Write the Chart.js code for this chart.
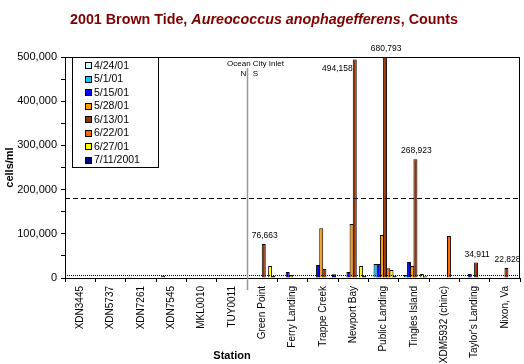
<!DOCTYPE html>
<html>
<head>
<meta charset="utf-8">
<script src="https://cdn.jsdelivr.net/npm/chart.js@4"></script>
<style>
  html, body { margin: 0; padding: 0; background: #fff; }
  #wrap { width: 524px; height: 364px; }
</style>
</head>
<body>
<div id="wrap"><canvas id="chart" width="524" height="364"></canvas></div>
<script>
(function () {
  'use strict';

  var STATIONS = ['XDN3445', 'XDN5737', 'XDN7261', 'XDN7545', 'MKL0010', 'TUY0011',
    'Green Point', 'Ferry Landing', 'Trappe Creek', 'Newport Bay', 'Public Landing',
    'Tingles Island', 'XDM5932 (chinc)', "Taylor's Landing", 'Nixon, Va'];

  var DATES = ['4/24/01', '5/1/01', '5/15/01', '5/28/01', '6/13/01', '6/22/01', '6/27/01', '7/11/2001'];
  var COLORS = ['#CCFFFF', '#00CCFF', '#0000FF', '#FF9900', '#993300', '#FF6600', '#FFFF00', '#000080'];

  // cells/ml per station, one array per sampling date
  var APR24 = [null, null, 3000, 1000, null, null, null, null, null, 1000, null, null, null, null, null];
  var MAY01 = [null, null, null, 5000, null, null, null, null, null, 1000, 31700, 6800, null, null, null];
  var MAY15 = [null, null, null, null, null, null, null, 13500, 29400, 13600, 31700, 36200, null, 9000, null];
  var MAY28 = [null, null, null, null, null, null, 1000, 6800, 112400, 122000, 97300, 27100, null, null, null];
  var JUN13 = [null, null, null, null, null, null, 76663, null, 20400, 494158, 680793, 268923, null, 34911, 22828];
  var JUN22 = [null, null, null, null, null, null, null, null, null, null, 22000, null, 95000, null, null];
  var JUN27 = [null, null, null, null, null, null, 27000, 1000, 1500, 27000, 18000, 9000, null, 1000, 1500];
  var JUL11 = [null, null, null, null, null, null, 5000, null, 8300, 5000, 5000, 4000, null, null, 1500];
  var SERIES = [APR24, MAY01, MAY15, MAY28, JUN13, JUN22, JUN27, JUL11];

  var Y_MAX = 500000;
  var Y_STEP = 50000;
  var DASHED_LEVEL = 181000;
  var DOTTED_LEVEL = 6800;

  // stations whose 6/13/01 count is printed, and where the number sits
  var LABELLED = [
    { station: 'Green Point', place: 'top' },
    { station: 'Newport Bay', place: 'left' },
    { station: 'Public Landing', place: 'top' },
    { station: 'Tingles Island', place: 'top' },
    { station: "Taylor's Landing", place: 'top' },
    { station: 'Nixon, Va', place: 'top' }
  ];

  var FONT = '"Liberation Sans", Arial, sans-serif';
  Chart.defaults.font.family = FONT;
  Chart.defaults.font.size = 11;
  Chart.defaults.color = '#000';

  function fmt(v) { return Number(v).toLocaleString('en-US'); }

  function hline(ctx, x1, x2, y) {
    ctx.beginPath();
    ctx.moveTo(x1, y);
    ctx.lineTo(x2, y);
    ctx.stroke();
  }

  var decorations = {
    id: 'decorations',
    afterDatasetsDraw: function (chart) {
      var ctx = chart.ctx;
      var area = chart.chartArea;
      var xs = chart.scales.x;
      var ys = chart.scales.y;
      ctx.save();

      // threshold lines
      ctx.strokeStyle = '#000';
      ctx.lineWidth = 1;
      ctx.setLineDash([5, 3]);
      hline(ctx, area.left, area.right, Math.round(ys.getPixelForValue(DASHED_LEVEL)) + 0.5);
      ctx.setLineDash([1, 1]);
      hline(ctx, area.left, area.right, Math.round(ys.getPixelForValue(DOTTED_LEVEL)) + 0.5);
      ctx.setLineDash([]);

      // plot frame
      ctx.strokeRect(area.left + 0.5, area.top + 0.5, area.right - area.left - 1, area.bottom - area.top);

      // Ocean City Inlet divider
      var xi = Math.round((xs.getPixelForValue(5) + xs.getPixelForValue(6)) / 2) + 0.5;
      ctx.strokeStyle = '#999';
      ctx.lineWidth = 1.5;
      ctx.beginPath();
      ctx.moveTo(xi, area.top + 11);
      ctx.lineTo(xi, area.bottom + 12);
      ctx.stroke();
      ctx.fillStyle = '#000';
      ctx.font = '8px ' + FONT;
      ctx.textAlign = 'center';
      ctx.textBaseline = 'middle';
      ctx.fillText('Ocean City Inlet', xi + 8, area.top + 7);
      ctx.fillText('N', xi - 4, area.top + 17);
      ctx.fillText('S', xi + 8, area.top + 17);

      // value labels on the 6/13/01 bars
      var meta = chart.getDatasetMeta(4);
      ctx.font = '8.5px ' + FONT;
      LABELLED.forEach(function (l) {
        var i = STATIONS.indexOf(l.station);
        var bar = meta.data[i];
        var text = fmt(JUN13[i]);
        var top = Math.max(bar.y, area.top);
        if (l.place === 'left') {
          ctx.textAlign = 'right';
          ctx.fillText(text, bar.x - bar.width / 2, top + 9);
        } else {
          ctx.textAlign = 'center';
          ctx.fillText(text, bar.x + 1, top - 8);
        }
      });

      // legend box
      var lx = area.left + 7, ly = area.top, lw = 86, lh = 110;
      ctx.fillStyle = '#fff';
      ctx.fillRect(lx, ly, lw, lh);
      ctx.strokeStyle = '#000';
      ctx.lineWidth = 1;
      ctx.strokeRect(lx + 0.5, ly + 0.5, lw, lh);
      ctx.font = '10.5px ' + FONT;
      ctx.textAlign = 'left';
      ctx.textBaseline = 'middle';
      chart.data.datasets.forEach(function (ds, k) {
        var cy = ly + 8 + k * 13.5;
        ctx.fillStyle = ds.backgroundColor;
        ctx.fillRect(lx + 13, Math.round(cy) - 3, 7, 7);
        ctx.strokeRect(lx + 13.5, Math.round(cy) - 2.5, 6, 6);
        ctx.fillStyle = '#000';
        ctx.fillText(ds.label, lx + 22, cy + 1);
      });

      ctx.restore();
    },
    afterDraw: function (chart) {
      var ctx = chart.ctx;
      ctx.save();
      // title with italic species name
      var parts = [
        { t: '2001 Brown Tide, ', f: 'bold 14.3px ' + FONT },
        { t: 'Aureococcus anophagefferens', f: 'italic bold 14.3px ' + FONT },
        { t: ', Counts', f: 'bold 14.3px ' + FONT }
      ];
      var total = 0;
      parts.forEach(function (p) { ctx.font = p.f; p.w = ctx.measureText(p.t).width; total += p.w; });
      var x = chart.width / 2 + 2 - total / 2;
      ctx.fillStyle = '#800000';
      ctx.textBaseline = 'middle';
      ctx.textAlign = 'left';
      parts.forEach(function (p) { ctx.font = p.f; ctx.fillText(p.t, x, 20); x += p.w; });

      // x axis title
      ctx.fillStyle = '#000';
      ctx.font = 'bold 11px ' + FONT;
      ctx.textAlign = 'center';
      ctx.fillText('Station', 232, 356);
      ctx.restore();
    }
  };

  var datasets = DATES.map(function (d, k) {
    return {
      label: d,
      data: SERIES[k],
      backgroundColor: COLORS[k],
      borderColor: '#000',
      borderWidth: 1,
      borderSkipped: 'start',
      inflateAmount: 0,
      categoryPercentage: 0.84,
      barPercentage: 1.25
    };
  });

  new Chart(document.getElementById('chart').getContext('2d'), {
    type: 'bar',
    data: { labels: STATIONS, datasets: datasets },
    options: {
      responsive: false,
      animation: false,
      layout: { padding: { top: 57, right: 4, left: 0, bottom: 0 } },
      plugins: {
        legend: { display: false },
        tooltip: { enabled: false }
      },
      scales: {
        x: {
          afterFit: function (s) { s.height = 86; },
          grid: { display: true, drawOnChartArea: false, offset: true, tickLength: 4, color: '#000' },
          border: { color: '#000', width: 1 },
          ticks: { autoSkip: false, minRotation: 90, maxRotation: 90, padding: 4, font: { size: 10 } }
        },
        y: {
          min: 0,
          max: Y_MAX,
          afterFit: function (s) { s.width = 65; },
          grid: { display: true, drawOnChartArea: false, tickLength: 4, color: '#000' },
          border: { color: '#000', width: 1 },
          ticks: {
            stepSize: Y_STEP,
            padding: 4,
            font: { size: 11 },
            callback: function (v) { return v % 100000 === 0 ? fmt(v) : ''; }
          },
          title: { display: true, text: 'cells/ml', font: { size: 11, weight: 'bold' }, padding: { top: 3, bottom: 0 } }
        }
      }
    },
    plugins: [decorations]
  });
})();
</script>
</body>
</html>
